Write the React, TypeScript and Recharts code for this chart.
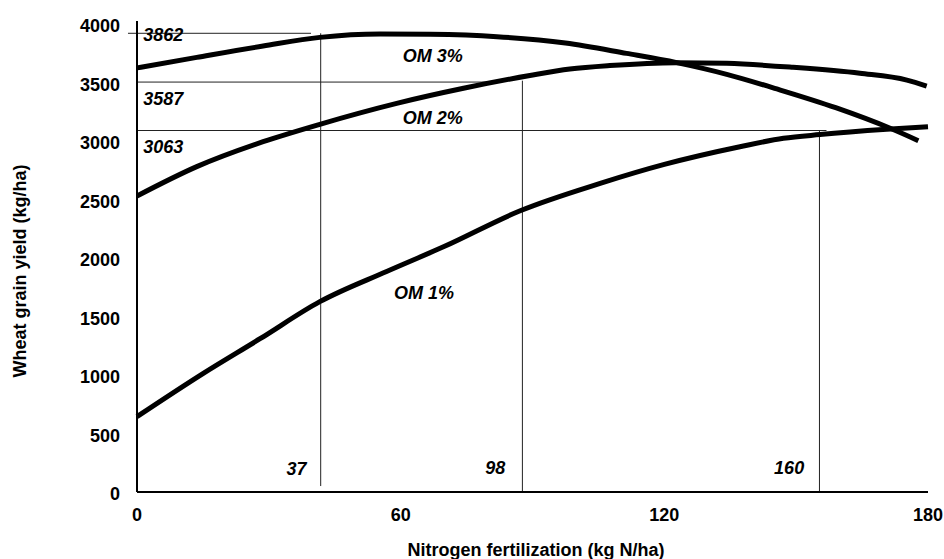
import React from 'react';
import { LineChart, Line, XAxis, YAxis, ReferenceLine, ReferenceDot } from 'recharts';

const FONT = '"Liberation Sans", Arial, Helvetica, sans-serif';

const xTicks = [0, 60, 120, 180];
const yTicks = [0, 500, 1000, 1500, 2000, 2500, 3000, 3500, 4000];

// Organic matter 3%
const om3 = [
  { x: 0, y: 3625 }, { x: 13.6, y: 3715 }, { x: 28.7, y: 3812 }, { x: 41.6, y: 3886 },
  { x: 55.3, y: 3915 }, { x: 66.7, y: 3912 }, { x: 81.9, y: 3892 }, { x: 97.5, y: 3838 },
  { x: 111.4, y: 3749 }, { x: 122.8, y: 3670 }, { x: 134.2, y: 3570 }, { x: 145.6, y: 3445 },
  { x: 159, y: 3285 }, { x: 171.4, y: 3109 }, { x: 177.8, y: 3003 },
];

// Organic matter 2%
const om2 = [
  { x: 0, y: 2530 }, { x: 13.6, y: 2781 }, { x: 28.7, y: 2994 }, { x: 41.6, y: 3143 },
  { x: 59.1, y: 3322 }, { x: 74.3, y: 3451 }, { x: 89.4, y: 3560 }, { x: 98.5, y: 3615 },
  { x: 107.6, y: 3645 }, { x: 122.8, y: 3670 }, { x: 134.2, y: 3664 }, { x: 149.3, y: 3630 },
  { x: 164.5, y: 3579 }, { x: 175.2, y: 3521 }, { x: 179.7, y: 3470 },
];

// Organic matter 1%
const om1 = [
  { x: 0, y: 644 }, { x: 15, y: 1012 }, { x: 28, y: 1310 }, { x: 41.6, y: 1627 },
  { x: 56.8, y: 1885 }, { x: 70, y: 2100 }, { x: 87.2, y: 2404 }, { x: 105.4, y: 2638 },
  { x: 120, y: 2800 }, { x: 137.2, y: 2951 }, { x: 147.1, y: 3023 }, { x: 155.4, y: 3055 },
  { x: 170.6, y: 3100 }, { x: 180, y: 3122 },
];

// Guide segments (optimum N rate / yield)
const guides = [
  { x1: -2.05, y1: 3921, x2: 39.6, y2: 3921 },
  { x1: 41.8, y1: 3921, x2: 41.8, y2: 51 },
  { x1: 0, y1: 3504, x2: 82.6, y2: 3504 },
  { x1: 87.7, y1: 3516, x2: 87.7, y2: 0 },
  { x1: 0, y1: 3090, x2: 156.9, y2: 3090 },
  { x1: 155.3, y1: 3090, x2: 155.3, y2: 0 },
];

// Annotation texts
const notes = [
  { text: '3862', x: 1.4, y: 3906, anchor: 'start' },
  { text: '3587', x: 1.4, y: 3365, anchor: 'start' },
  { text: '3063', x: 1.4, y: 2951, anchor: 'start' },
  { text: 'OM 3%', x: 67.3, y: 3726, anchor: 'middle' },
  { text: 'OM 2%', x: 67.3, y: 3199, anchor: 'middle' },
  { text: 'OM 1%', x: 65.3, y: 1707, anchor: 'middle' },
  { text: '37', x: 36.3, y: 203, anchor: 'middle' },
  { text: '98', x: 81.5, y: 205, anchor: 'middle' },
  { text: '160', x: 148.4, y: 205, anchor: 'middle' },
];

const tickStyle = { fill: '#000', fontSize: 18, fontWeight: 700, fontFamily: FONT };

const YTitle = (props: any) => {
  const vb = props.viewBox || { x: 0, y: 21, width: 137, height: 471 };
  const cx = vb.x + 26;
  const cy = vb.y + vb.height / 2 + 14.5;
  return (
    <text
      x={cx}
      y={cy}
      transform={`rotate(-90 ${cx} ${cy})`}
      textAnchor="middle"
      fill="#000"
      fontSize={18}
      fontWeight={700}
      fontFamily={FONT}
    >
      Wheat grain yield (kg/ha)
    </text>
  );
};

const XTitle = (props: any) => {
  const vb = props.viewBox || { x: 137, y: 492, width: 791, height: 67 };
  return (
    <text
      x={vb.x + vb.width / 2 + 3.5}
      y={vb.y + vb.height - 3}
      textAnchor="middle"
      fill="#000"
      fontSize={18}
      fontWeight={700}
      fontFamily={FONT}
    >
      Nitrogen fertilization (kg N/ha)
    </text>
  );
};

export default function App() {
  return (
    <div style={{ position: 'absolute', left: 0, top: 0, background: '#fff' }}>
      <LineChart width={944} height={559} margin={{ top: 21, right: 16, left: 0, bottom: 0 }}>
        <XAxis
          type="number"
          dataKey="x"
          domain={[0, 180]}
          ticks={xTicks}
          tickLine={false}
          tickSize={6}
          tickMargin={10}
          axisLine={{ stroke: '#000', strokeWidth: 2 }}
          tick={tickStyle}
          height={67}
          label={<XTitle />}
        />
        <YAxis
          type="number"
          domain={[0, 4026]}
          ticks={yTicks}
          tickLine={false}
          tickSize={6}
          tickMargin={11}
          axisLine={{ stroke: '#000', strokeWidth: 2 }}
          tick={{ ...tickStyle, dy: 2 }}
          width={137}
          label={<YTitle />}
        />
        {guides.map((g, i) => (
          <ReferenceLine
            key={'g' + i}
            segment={[{ x: g.x1, y: g.y1 }, { x: g.x2, y: g.y2 }]}
            stroke="#222"
            strokeWidth={1}
            ifOverflow="visible"
          />
        ))}
        <Line data={om3} dataKey="y" type="monotone" stroke="#000" strokeWidth={5} dot={false} activeDot={false} isAnimationActive={false} />
        <Line data={om2} dataKey="y" type="monotone" stroke="#000" strokeWidth={5} dot={false} activeDot={false} isAnimationActive={false} />
        <Line data={om1} dataKey="y" type="monotone" stroke="#000" strokeWidth={5} dot={false} activeDot={false} isAnimationActive={false} />
        {notes.map((n, i) => (
          <ReferenceDot
            key={'n' + i}
            x={n.x}
            y={n.y}
            r={0}
            ifOverflow="visible"
            shape={(p: any) => (
              <text
                x={p.cx}
                y={p.cy}
                dy="0.355em"
                textAnchor={n.anchor}
                fill="#000"
                fontSize={18}
                fontWeight={700}
                fontStyle="italic"
                fontFamily={FONT}
              >
                {n.text}
              </text>
            )}
          />
        ))}
      </LineChart>
    </div>
  );
}
